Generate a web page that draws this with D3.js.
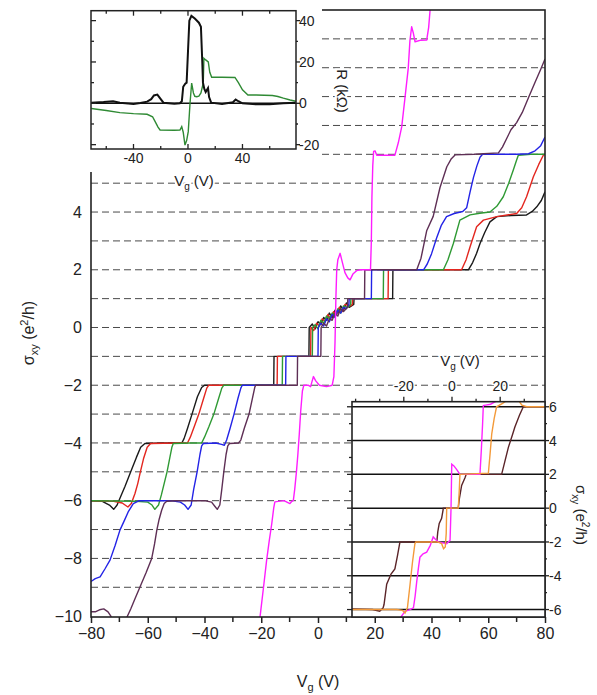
<!DOCTYPE html>
<html><head><meta charset="utf-8">
<script src="https://cdn.jsdelivr.net/npm/d3@7"></script>
<style>
body{margin:0;background:#fff;}
svg text{font-family:"Liberation Sans",Arial,Helvetica,sans-serif;fill:#222;}
</style></head><body>
<svg id="c" width="597" height="695"></svg>
<script>
// ---------------- DATA ----------------
const xTicksMain = [-80,-60,-40,-20,0,20,40,60,80];
const xMinorMain = [-70,-50,-30,-10,10,30,50,70];
const yTicksMain = [-10,-8,-6,-4,-2,0,2,4];
const gridLevels = [-9,-8,-7,-6,-5,-4,-3,-2,-1,0,1,2,3,4,5,6,7,8,9,10];

const blackTrace = [[-80,-6.0],[-76,-6.02],[-73.5,-6.15],[-72,-6.3],[-70.8,-6.15],[-69.5,-5.85],[-68,-5.5],[-66,-5.0],[-64,-4.5],[-62.5,-4.15],[-61,-4.02],[-55,-4.0],[-48,-4.0],[-47.2,-3.85],[-46,-3.5],[-44.4,-3.0],[-42.5,-2.4],[-41,-2.08],[-40,-2.0],[-28,-2.0],[-15.6,-2.0],[-15.5,-1.0],[-3.2,-1.0],[-3.1,0.0],[-2,0.12],[-1,-0.05],[0,0.2],[1,0.1],[2,0.35],[3,0.25],[4,0.5],[5,0.35],[6,0.6],[7,0.5],[8,0.75],[9,0.6],[10,0.85],[11,0.7],[12.6,0.8],[12.7,1.0],[20,1.0],[26.3,1.0],[26.4,2.0],[40,2.0],[53,2.0],[54.5,2.25],[55.9,2.57],[57.1,2.91],[58.8,3.3],[60.6,3.66],[63,3.84],[68,3.88],[73.5,3.9],[75.5,4.02],[77.1,4.18],[78.7,4.4],[80,4.7]];
const redTrace = [[-80,-6.0],[-72,-6.02],[-69,-6.08],[-67,-6.22],[-65.8,-6.1],[-64.5,-5.75],[-63.5,-5.4],[-62.6,-5.0],[-61.5,-4.55],[-60.2,-4.15],[-59,-4.02],[-50,-4.0],[-46,-4.0],[-45,-3.8],[-43.5,-3.4],[-42,-3.0],[-40.3,-2.45],[-39.2,-2.1],[-38.5,-2.0],[-14.4,-2.0],[-14.3,-1.0],[-2.6,-1.0],[-2.5,0.0],[-1.5,-0.1],[-0.5,0.15],[0.5,0.05],[1.5,0.3],[2.5,0.2],[3.5,0.45],[4.5,0.3],[5.5,0.55],[6.5,0.45],[7.5,0.7],[8.5,0.55],[9.5,0.8],[11.5,0.75],[12.1,0.8],[12.2,1.0],[24.7,1.0],[24.8,2.0],[50.6,2.0],[52.2,2.35],[53.6,2.8],[55.9,3.49],[58.3,3.72],[63,3.84],[70,3.95],[71.8,4.15],[73.5,4.53],[75.9,5.22],[77.8,5.65],[79.4,5.97],[80,6.0]];
const greenTrace = [[-80,-6.0],[-64,-6.02],[-60,-6.05],[-58.5,-6.15],[-57.5,-6.3],[-56.2,-6.15],[-55.2,-5.8],[-54.2,-5.4],[-53.2,-5.0],[-52.2,-4.5],[-51.5,-4.15],[-51,-4.02],[-45,-4.0],[-41,-4.0],[-40,-3.8],[-38.5,-3.45],[-36.7,-3.0],[-35,-2.45],[-33.9,-2.1],[-33.2,-2.0],[-12.6,-2.0],[-12.5,-1.0],[-2.0,-1.0],[-1.9,0.0],[-1,0.1],[0,-0.05],[1,0.25],[2,0.15],[3,0.4],[4,0.3],[5,0.5],[6,0.4],[7,0.65],[8,0.5],[9,0.75],[10.5,0.7],[11.5,0.8],[11.6,1.0],[23.0,1.0],[23.1,2.0],[44.2,2.0],[45.8,2.35],[47.7,2.91],[50,3.72],[53.6,3.9],[57,3.96],[60.6,4.0],[63,4.2],[65.3,4.53],[67.2,5.0],[68.8,5.45],[70,5.8],[70.6,5.97],[75,6.0],[80,6.0]];
const blueTrace = [[-80,-8.8],[-78.5,-8.7],[-76.8,-8.64],[-75,-8.35],[-73.3,-8.06],[-71.5,-7.55],[-69.8,-7.02],[-68.3,-6.7],[-66.9,-6.39],[-65.1,-6.1],[-63,-6.0],[-52,-6.0],[-48.5,-6.05],[-47,-6.15],[-45.8,-6.3],[-44.7,-6.15],[-43.8,-5.6],[-42.6,-5.0],[-41.6,-4.4],[-41,-4.1],[-40.4,-4.02],[-36,-4.0],[-34,-4.05],[-33,-4.08],[-32.2,-3.9],[-31,-3.5],[-29.6,-3.0],[-28.2,-2.45],[-27.2,-2.1],[-26.7,-2.0],[-11.4,-2.0],[-11.3,-1.0],[0.0,-1.0],[0.1,0.0],[1,0.15],[2,0.05],[3,0.3],[4,0.2],[5,0.45],[6,0.35],[7,0.6],[8,0.5],[9,0.7],[10,0.65],[10.9,0.8],[11.0,1.0],[18.8,1.0],[18.9,2.0],[37.2,2.0],[38.5,2.2],[40,2.55],[41.8,3.1],[43.5,3.55],[45.3,3.84],[48,3.95],[51,4.02],[52.4,4.15],[53.6,4.7],[54.8,5.2],[56,5.6],[57.1,5.9],[58,6.0],[70,6.0],[74.2,6.02],[76.5,6.12],[78.5,6.3],[80,6.6]];
const brownTrace = [[-80,-9.85],[-78.5,-9.85],[-77,-9.78],[-75.5,-9.75],[-74,-9.85],[-73,-10.0],[-72,-10.3],[-68,-10.4],[-67.4,-10.05],[-66,-9.75],[-64.5,-9.4],[-62.7,-8.98],[-60.6,-8.5],[-58.6,-8.0],[-57.6,-7.5],[-56.8,-7.02],[-56,-6.65],[-55.1,-6.33],[-54.2,-6.1],[-53.3,-6.02],[-50,-6.0],[-40,-6.0],[-37.5,-6.05],[-36.3,-6.2],[-35.5,-6.3],[-34.6,-6.15],[-33.9,-5.6],[-33.2,-5.0],[-32.4,-4.4],[-31.8,-4.1],[-31.2,-4.02],[-28,-4.0],[-27.2,-3.9],[-26,-3.5],[-24.3,-3.0],[-23,-2.4],[-22.3,-2.08],[-22,-2.0],[-7.3,-2.0],[-7.2,-1.0],[1.0,-1.0],[1.1,0.0],[2,0.15],[3,0.05],[4,0.3],[5,0.25],[6,0.5],[7,0.4],[8,0.65],[9,0.55],[10.4,0.7],[10.5,1.0],[16.4,1.0],[16.5,2.0],[34.8,2.0],[36.3,2.4],[38.3,3.35],[40.6,3.85],[43,4.85],[45.4,5.57],[47,5.85],[48.3,5.98],[55,6.0],[63.6,6.05],[65,6.25],[66.5,6.55],[68,6.85],[70,7.1],[72,7.45],[74.2,7.97],[76.5,8.5],[78.5,8.95],[80,9.3]];
const magentaTrace = [[-21,-10.6],[-20.4,-10.0],[-19.2,-9.0],[-18.1,-8.06],[-17.2,-7.4],[-16.3,-6.8],[-15.6,-6.25],[-15.2,-6.04],[-12,-6.0],[-9.9,-6.1],[-9.2,-6.02],[-8.7,-6.0],[-8.2,-5.6],[-7.6,-5.0],[-7.1,-4.4],[-6.6,-3.7],[-6.1,-2.9],[-5.5,-2.2],[-5.0,-2.0],[-3.5,-2.0],[-2.6,-2.05],[-2.2,-1.9],[-1.6,-1.7],[-0.8,-1.85],[0.5,-2.0],[3,-2.05],[5.0,-2.0],[5.6,-1.7],[6.0,-0.5],[6.3,1.0],[6.6,2.0],[7.0,2.35],[7.8,2.57],[8.6,2.25],[9.5,1.9],[10.5,1.72],[11.3,1.65],[12.3,1.85],[13.6,1.97],[15,2.0],[18.5,2.0],[18.8,3.0],[19.0,4.5],[19.3,5.6],[19.6,6.1],[20.1,6.12],[20.7,5.97],[24,5.97],[27.1,5.97],[28.3,6.4],[29.5,6.95],[30.7,8.0],[31.8,8.98],[32.4,9.94],[33,10.42],[33.6,10.2],[34.2,9.9],[36,9.95],[38.3,9.96],[39,10.4],[39.5,11.0],[40,11.6]];

// top-left inset (R vs Vg)
const inset1XTicks = [-40,0,40];
const inset1XMinor = [-60,-20,20,60];
const inset1YTicks = [-20,0,20,40];
const inset1YMinor = [-10,10,30];
const rxxTrace = [[-71,0.3],[-62,0.6],[-55,1.0],[-50,0.3],[-40,-0.3],[-35,0.2],[-30,0.8],[-27,2],[-25,3.8],[-22.5,4.2],[-20,2],[-18,0.3],[-10,-0.2],[-6,0],[-4.5,1],[-3.5,8],[-2,9.5],[-1,10],[0,25],[1,40],[2.5,42.3],[5,41],[8,39],[9.5,37],[10.5,20],[11,10],[12,7],[13,5.5],[14.7,7.4],[15.5,3],[17,0.3],[25,-0.3],[33,0.5],[35,1.8],[37,1],[40,0],[50,-0.5],[60,-0.5],[70,0],[79,0.3]];
const rxyTrace = [[-71,-2.5],[-60,-3.5],[-50,-4.5],[-40,-5],[-30,-5.3],[-26,-6.5],[-24,-9],[-22,-11.5],[-20.5,-12.9],[-10,-13],[-5.9,-12.9],[-4.6,-11.3],[-3.5,-14],[-2.2,-20.2],[-1,-18],[0.2,-13.7],[1.5,0],[2.7,9.8],[4,5],[5,3.4],[6.4,3.2],[8,3.5],[9.5,5],[11.2,9.7],[11.7,21.8],[13,21],[14.9,20],[16,15],[17.4,12.6],[25,12.6],[34.5,12.5],[37,10],[40,6.5],[44,4],[50,4],[62,3.8],[66,3.3],[70,2.5],[75,1.6],[79.3,1]];

// bottom-right inset (sigma_xy vs Vg)
const inset2XTicks = [-20,0,20];
const inset2XMinor = [-40,-30,-10,10,30];
const inset2YTicks = [-6,-4,-2,0,2,4,6];
const inset2YMinor = [-5,-3,-1,1,3,5];
const insetBrown = [[-41.5,-5.96],[-33,-6.0],[-30,-6.1],[-28.6,-5.9],[-28.2,-5.7],[-27.1,-4.5],[-25.3,-3.9],[-23.7,-3.6],[-22.6,-2.8],[-21.6,-2.0],[-12,-2.0],[-6.3,-2.0],[-5.9,-1.4],[-5.3,-0.9],[-4.3,-0.6],[-3.7,-0.1],[-3.6,0],[2.6,0],[3.0,0.5],[4.0,1.35],[5.4,1.8],[5.9,2.0],[20.6,2.0],[22,2.8],[23.4,3.6],[25,4.3],[26.1,4.8],[28,5.5],[29.6,6.0],[38.6,6.0]];
const insetMagenta = [[-22,-6.6],[-19.5,-6.1],[-17.5,-6.0],[-16,-5.9],[-15.3,-5.2],[-14.6,-4.3],[-13.9,-3.5],[-13.3,-2.9],[-12,-2.7],[-10.5,-2.6],[-9,-2.2],[-7.8,-1.7],[-6.8,-1.85],[-5.7,-2.0],[-2.2,-2.1],[-0.8,-1.9],[-0.4,0],[-0.1,2.6],[0.8,2.5],[1.9,2.3],[3.3,2.0],[11.6,2.0],[12.2,3.5],[12.7,5.0],[13,6.07],[14,6.1],[16,6.15],[18,6.3],[20.6,6.6]];
const insetOrange = [[-41.5,-6.0],[-23,-6.0],[-20.5,-6.05],[-19.5,-6.2],[-18.5,-5.9],[-17.4,-4.5],[-16.4,-3.2],[-15.4,-2.1],[-15,-2.0],[-6,-2.0],[-4.3,-2.1],[-3.5,-2.4],[-2.8,-2.3],[-2.4,-1.5],[-2.2,0],[2.6,0],[3.0,1.0],[3.3,2.0],[15.1,2.07],[15.8,3.2],[16.5,4.4],[17.5,5.3],[18.5,6.0],[21,6.2],[24,6.5],[27,6.5],[29,6.1],[31,6.0],[38.6,6.0]];

// ---------------- DRAW ----------------
const svg = d3.select("#c");
const fmt = d => d < 0 ? "\u2212" + Math.abs(d) : String(d);
const fmtH = d => String(d); // hyphen style in insets

const x = d3.scaleLinear().domain([-80,80]).range([91,545]);
const y = d3.scaleLinear().domain([-10.03,11]).range([617,10]);

const defs = svg.append("defs");
defs.append("clipPath").attr("id","clipMain").append("rect")
  .attr("x",91).attr("y",10).attr("width",454).attr("height",607);

// gridlines
svg.append("g").selectAll("line").data(gridLevels).join("line")
  .attr("x1",x(-80)).attr("x2",x(80)).attr("y1",d=>y(d)).attr("y2",d=>y(d))
  .attr("stroke","#4a4a4a").attr("stroke-width",1).attr("stroke-dasharray","7,4");

const line = d3.line().x(d=>x(d[0])).y(d=>y(d[1]));
const traces = [
  {d:blackTrace,c:"#1a1a1a"},
  {d:redTrace,c:"#e3261f"},
  {d:greenTrace,c:"#2f9a34"},
  {d:blueTrace,c:"#2323e6"},
  {d:brownTrace,c:"#5e2f55"},
  {d:magentaTrace,c:"#ff1cff"}
];
const gc = svg.append("g").attr("clip-path","url(#clipMain)");
traces.forEach(t=>{
  gc.append("path").attr("d",line(t.d)).attr("fill","none")
    .attr("stroke",t.c).attr("stroke-width",1.4).attr("stroke-linejoin","round");
});

// frame
svg.append("rect").attr("x",91).attr("y",10).attr("width",454).attr("height",607)
  .attr("fill","none").attr("stroke","#222").attr("stroke-width",1.6);

// bottom axis
const ax = svg.append("g").attr("transform","translate(0,617)")
  .call(d3.axisBottom(x).tickValues(xTicksMain).tickSize(6).tickPadding(5).tickFormat(fmt));
ax.select(".domain").remove();
ax.selectAll("line").attr("stroke","#222").attr("stroke-width",1.5);
ax.selectAll("text").attr("font-size",16).attr("fill","#222").style("font-family","Liberation Sans, Arial, sans-serif");
svg.append("g").selectAll("line").data(xMinorMain).join("line")
  .attr("x1",d=>x(d)).attr("x2",d=>x(d)).attr("y1",617).attr("y2",622)
  .attr("stroke","#222").attr("stroke-width",1.5);

// left axis labels
const ay = svg.append("g").attr("transform","translate(91,0)")
  .call(d3.axisLeft(y).tickValues(yTicksMain).tickSize(0).tickPadding(9).tickFormat(fmt));
ay.select(".domain").remove();
ay.selectAll("text").attr("font-size",16).attr("fill","#222").style("font-family","Liberation Sans, Arial, sans-serif");

// axis titles
const xl = svg.append("text").attr("x",318).attr("y",687).attr("text-anchor","middle").attr("font-size",16);
xl.append("tspan").text("V");
xl.append("tspan").attr("dy",4).attr("font-size",11).text("g");
xl.append("tspan").attr("dy",-4).text(" (V)");

const yl = svg.append("text").attr("transform","translate(34,333) rotate(-90)").attr("text-anchor","middle").attr("font-size",16);
yl.append("tspan").text("\u03c3");
yl.append("tspan").attr("dy",4).attr("font-size",11).text("xy");
yl.append("tspan").attr("dy",-4).text(" (e");
yl.append("tspan").attr("dy",-6).attr("font-size",11).text("2");
yl.append("tspan").attr("dy",6).text("/h)");

// ---------- top-left inset ----------
svg.append("rect").attr("x",0).attr("y",0).attr("width",322).attr("height",172).attr("fill","#fff");
const x1 = d3.scaleLinear().domain([-71.2,79.3]).range([91,296]);
const y1 = d3.scaleLinear().domain([-22.1,44.8]).range([149,10.7]);
defs.append("clipPath").attr("id","clip1").append("rect")
  .attr("x",91).attr("y",10.7).attr("width",205).attr("height",138.3);
const g1 = svg.append("g");
const line1 = d3.line().x(d=>x1(d[0])).y(d=>y1(d[1]));
const g1c = g1.append("g").attr("clip-path","url(#clip1)");
g1c.append("line").attr("x1",91).attr("x2",296).attr("y1",y1(0)).attr("y2",y1(0))
  .attr("stroke","#111").attr("stroke-width",1.6);
g1c.append("path").attr("d",line1(rxyTrace)).attr("fill","none").attr("stroke","#2f8a34").attr("stroke-width",1.4);
g1c.append("path").attr("d",line1(rxxTrace)).attr("fill","none").attr("stroke","#111").attr("stroke-width",2);
g1.append("rect").attr("x",91).attr("y",10.7).attr("width",205).attr("height",138.3)
  .attr("fill","none").attr("stroke","#222").attr("stroke-width",1.5);
// x ticks top & bottom (inward)
[[inset1XTicks,5],[inset1XMinor,3]].forEach(([arr,len])=>{
  g1.append("g").selectAll("line").data(arr).join("line")
    .attr("x1",d=>x1(d)).attr("x2",d=>x1(d)).attr("y1",149).attr("y2",149-len).attr("stroke","#222").attr("stroke-width",1.3);
  g1.append("g").selectAll("line").data(arr).join("line")
    .attr("x1",d=>x1(d)).attr("x2",d=>x1(d)).attr("y1",10.7).attr("y2",10.7+len).attr("stroke","#222").attr("stroke-width",1.3);
});
// y ticks left inward, right outward
[[inset1YTicks,5],[inset1YMinor,3]].forEach(([arr,len])=>{
  g1.append("g").selectAll("line").data(arr).join("line")
    .attr("x1",91).attr("x2",91+len).attr("y1",d=>y1(d)).attr("y2",d=>y1(d)).attr("stroke","#222").attr("stroke-width",1.3);
  g1.append("g").selectAll("line").data(arr).join("line")
    .attr("x1",296).attr("x2",296+len-1).attr("y1",d=>y1(d)).attr("y2",d=>y1(d)).attr("stroke","#222").attr("stroke-width",1.3);
});
g1.append("g").selectAll("text").data(inset1XTicks).join("text")
  .attr("x",d=>x1(d)).attr("y",163).attr("text-anchor","middle").attr("font-size",14).text(fmtH);
g1.append("g").selectAll("text").data(inset1YTicks).join("text")
  .attr("x",299).attr("y",d=>y1(d)+5).attr("text-anchor","start").attr("font-size",14).text(fmtH);
const x1l = g1.append("text").attr("x",194).attr("y",186).attr("text-anchor","middle").attr("font-size",15)
  .attr("stroke","#fff").attr("stroke-width",4).attr("paint-order","stroke");
x1l.append("tspan").text("V");
x1l.append("tspan").attr("dy",4).attr("font-size",10).text("g");
x1l.append("tspan").attr("dy",-4).text(" (V)");
g1.append("text").attr("transform","translate(337,91) rotate(90)").attr("text-anchor","middle").attr("font-size",15)
  .attr("stroke","#fff").attr("stroke-width",4).attr("paint-order","stroke").text("R (k\u03a9)");

// ---------- bottom-right inset ----------
const x2 = d3.scaleLinear().domain([-41.5,38.6]).range([352,545]);
const y2 = d3.scaleLinear().domain([-6.44,6.3]).range([617,401.7]);
defs.append("clipPath").attr("id","clip2").append("rect")
  .attr("x",352).attr("y",401.7).attr("width",193).attr("height",215.3);
const g2 = svg.append("g");
g2.append("rect").attr("x",352).attr("y",401.7).attr("width",193).attr("height",215.3).attr("fill","#fff");
const line2 = d3.line().x(d=>x2(d[0])).y(d=>y2(d[1]));
const g2c = g2.append("g").attr("clip-path","url(#clip2)");
g2c.append("g").selectAll("line").data(inset2YTicks).join("line")
  .attr("x1",352).attr("x2",545).attr("y1",d=>y2(d)).attr("y2",d=>y2(d)).attr("stroke","#111").attr("stroke-width",1.5);
g2c.append("path").attr("d",line2(insetBrown)).attr("fill","none").attr("stroke","#5a2428").attr("stroke-width",1.4);
g2c.append("path").attr("d",line2(insetMagenta)).attr("fill","none").attr("stroke","#ff22ff").attr("stroke-width",1.4);
g2c.append("path").attr("d",line2(insetOrange)).attr("fill","none").attr("stroke","#f39a3a").attr("stroke-width",1.4);
g2.append("rect").attr("x",352).attr("y",401.7).attr("width",193).attr("height",215.3)
  .attr("fill","none").attr("stroke","#222").attr("stroke-width",1.6);
// top ticks outward
[[inset2XTicks,5],[inset2XMinor,3]].forEach(([arr,len])=>{
  g2.append("g").selectAll("line").data(arr).join("line")
    .attr("x1",d=>x2(d)).attr("x2",d=>x2(d)).attr("y1",401.7).attr("y2",401.7-len).attr("stroke","#222").attr("stroke-width",1.3);
});
// left ticks outward, right ticks outward
[[inset2YTicks,5],[inset2YMinor,3]].forEach(([arr,len])=>{
  g2.append("g").selectAll("line").data(arr).join("line")
    .attr("x1",352).attr("x2",352-len).attr("y1",d=>y2(d)).attr("y2",d=>y2(d)).attr("stroke","#222").attr("stroke-width",1.3);
  g2.append("g").selectAll("line").data(arr).join("line")
    .attr("x1",545).attr("x2",545+len-1).attr("y1",d=>y2(d)).attr("y2",d=>y2(d)).attr("stroke","#222").attr("stroke-width",1.3);
});
g2.append("g").selectAll("text").data(inset2XTicks).join("text")
  .attr("x",d=>x2(d)).attr("y",391).attr("text-anchor","middle").attr("font-size",14)
  .attr("stroke","#fff").attr("stroke-width",3).attr("paint-order","stroke").text(fmtH);
g2.append("g").selectAll("text").data(inset2YTicks).join("text")
  .attr("x",549).attr("y",d=>y2(d)+5).attr("text-anchor","start").attr("font-size",14).text(fmtH);
const x2l = g2.append("text").attr("x",460).attr("y",366).attr("text-anchor","middle").attr("font-size",15)
  .attr("stroke","#fff").attr("stroke-width",4).attr("paint-order","stroke");
x2l.append("tspan").text("V");
x2l.append("tspan").attr("dy",4).attr("font-size",10).text("g");
x2l.append("tspan").attr("dy",-4).text(" (V)");
const y2l = g2.append("text").attr("transform","translate(576,515) rotate(90)").attr("text-anchor","middle").attr("font-size",15);
y2l.append("tspan").text("\u03c3");
y2l.append("tspan").attr("dy",4).attr("font-size",10).text("xy");
y2l.append("tspan").attr("dy",-4).text(" (e");
y2l.append("tspan").attr("dy",-6).attr("font-size",10).text("2");
y2l.append("tspan").attr("dy",6).text("/h)");
</script>
</body></html>
